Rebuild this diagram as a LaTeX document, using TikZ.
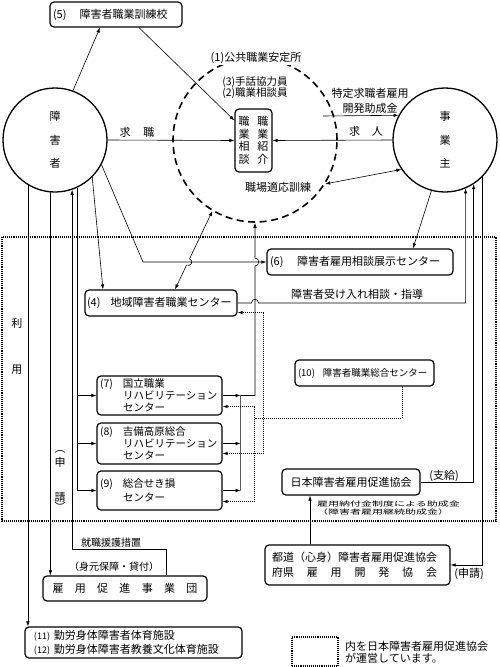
\documentclass[tikz,border=0pt]{standalone}
\usepackage{fontspec}
\usepackage{graphicx}
\setmainfont{Noto Sans CJK JP}
\usetikzlibrary{arrows.meta,calc}

\begin{document}
\begin{tikzpicture}[x=1pt, y=-1pt,
    every node/.style={font=\fontsize{11}{13}\selectfont, inner sep=1pt},
    box node/.style={draw, line width=1.2pt, rounded corners=4pt, inner xsep=3pt, inner ysep=0pt, align=left},
    round node/.style={circle, draw, line width=1.3pt, minimum size=104pt, align=center, font=\fontsize{11}{23.5}\selectfont},
    link/.style={line width=0.6pt},
    arrow link/.style={link, -{Latex[length=5pt,width=3.5pt]}},
    both link/.style={link, {Latex[length=5pt,width=3.5pt]}-{Latex[length=5pt,width=3.5pt]}},
    dot link/.style={line width=0.8pt, dash pattern=on 1pt off 1pt},
    dot arrow/.style={dot link, -{Latex[length=5pt,width=3.5pt]}},
    region line/.style={line width=1.2pt, dash pattern=on 1.1pt off 1pt}]

    \useasboundingbox[fill=white] (0,0) rectangle (500,667);

    % zone geree par l'association
    \draw[region line] (2,237) rectangle (496,521);

    % les deux acteurs
    \node[round node] (sha) at (55,140) {障\\害\\者};
    \node[round node] (jig) at (445,140) {事\\業\\主};

    % bureau public
    \node[circle, draw, line width=1.6pt, dash pattern=on 7pt off 4.5pt, minimum size=164pt] (antei) at (255,140) {};
    \node[fill=white] (antei label) at (256,58) {(1)公共職業安定所};
    \node[align=center, font=\fontsize{10.5}{11.6}\selectfont] (staff) at (255,87.5) {(3)手話協力員\\(2)職業相談員};
    \node[box node, align=center, minimum width=37pt, minimum height=63pt, font=\fontsize{11}{12.5}\selectfont] (sho) at (253.5,140.5) {職\hspace{8pt}職\\業\hspace{8pt}業\\相\hspace{8pt}紹\\談\hspace{8pt}介};
    \node (tekio) at (278,187) {職場適応訓練};

    % centres
    \node[box node, text width=126pt, minimum height=25pt] (n5) at (116,14.5) {(5)\hspace{13pt}障害者職業訓練校};
    \node[box node, text width=148pt, inner xsep=2pt, minimum height=26pt] (n4) at (161,303) {(4)\hspace{10pt}地域障害者職業センター};
    \node[box node, text width=180pt, minimum height=26pt] (n6) at (360,262) {(6)\hspace{13.5pt}障害者雇用相談展示センター};
    \node[box node, text width=133pt, minimum height=26pt, font=\fontsize{9.5}{11}\selectfont] (n10) at (364.5,373) {(10)\hspace{8pt}障害者職業総合センター};
    \node[box node, text width=119pt, minimum height=39pt, font=\fontsize{10.5}{12}\selectfont] (n7) at (159.5,395.5) {\makebox[23pt][l]{(7)}国立職業\\\hspace*{23pt}リハビリテーション\\\hspace*{23pt}センター};
    \node[box node, text width=119pt, minimum height=41pt, font=\fontsize{10.5}{12}\selectfont] (n8) at (159.5,443.5) {\makebox[23pt][l]{(8)}吉備高原総合\\\hspace*{23pt}リハビリテーション\\\hspace*{23pt}センター};
    \node[box node, text width=119pt, minimum height=39pt, font=\fontsize{10.5}{14}\selectfont] (n9) at (159.5,490.5) {\makebox[23pt][l]{(9)}総合せき損\\\hspace*{23pt}センター};
    \node[box node, align=center, minimum width=138pt, minimum height=26pt] (nihon) at (351,482) {日本障害者雇用促進協会};
    \node[box node, text width=171pt, inner xsep=7pt, minimum height=40pt, font=\fontsize{11}{15}\selectfont] (todo) at (357.5,565) {都道（心身）障害者雇用促進協会\\府県\makebox[13em][s]{\hfill 雇\hfill 用\hfill 開\hfill 発\hfill 協\hfill 会}};
    \node[box node, align=center, minimum width=164pt, minimum height=25pt] (koyo) at (125,588.5) {\makebox[145pt][s]{雇\hfill 用\hfill 促\hfill 進\hfill 事\hfill 業\hfill 団}};
    \node[box node, text width=199pt, inner xsep=9pt, minimum height=31pt, font=\fontsize{11}{14}\selectfont] (sisetsu) at (133.5,642.5) {\makebox[20pt][l]{\fontsize{9}{9}\selectfont(11)}勤労身体障害者体育施設\\\makebox[20pt][l]{\fontsize{9}{9}\selectfont(12)}勤労身体障害者教養文化体育施設};

    % legende
    \node[draw, region line, minimum width=46pt, minimum height=29pt] (legend box) at (315,651.5) {};
    \node[anchor=west, align=left, font=\fontsize{11}{12}\selectfont] (legend) at (344,652.5) {内を日本障害者雇用促進協会\\が運営しています。};

    % etiquettes
    \node (kyushoku) at (137,132) {求\hspace{13pt}職};
    \node (kyujin) at (366,131) {求\hspace{12pt}人};
    \node[align=center, font=\fontsize{11}{15}\selectfont] (josei) at (370,100.5) {特定求職者雇用\\開発助成金};
    \node (ukeire) at (357,294) {障害者受け入れ相談・指導};
    \node (shikyu) at (444,476) {(支給)};
    \node (shinsei) at (469,574) {(申請)};
    \node[anchor=west] (nofu1) at (316,504) {\scalebox{1}[0.6]{雇用納付金制度による助成金}};
    \node[anchor=west] (nofu2) at (316,512) {\scalebox{1}[0.6]{（障害者雇用継続助成金）}};
    \node[font=\fontsize{10}{12}\selectfont] (engo) at (111,543) {就職援護措置};
    \node[font=\fontsize{10}{12}\selectfont] (mimoto) at (114,567) {（身元保障・貸付）};
    \node (riyo1) at (17,323) {利};
    \node (riyo2) at (17,370) {用};
    \node (sh1) at (60,452) {︵};
    \node (sh2) at (60,462) {申};
    \node (sh3) at (60,497) {請};
    \node (sh4) at (60,507) {︶};

    % liaisons du haut
    \draw[arrow link] (sha.70) -- ($(n5.south)+(-16,0)$);
    \draw[arrow link] ($(n5.south)+(23,0)$) -- ($(sho.west)+(0,-20)$);
    \draw[arrow link] (sha.east) -- (sho.west);
    \draw[arrow link] (jig.west) -- (sho.east);
    \coordinate (josei start) at (323,116);
    \draw[arrow link] (josei start) -- (jig.152.4);
    \draw[both link] (antei.-32) -- (jig.-146);
    \draw[arrow link] (jig.-105) -- ($(n6.north)+(53,0)$);

    % liaisons vers les centres
    \draw[arrow link] (sha.-45) -- ($(n4.north)+(-58,0)$);
    \draw[arrow link] (sha.-28) -- (n6.west -| 143,0) -- (n6.west);
    \coordinate (d1) at ($(n4.north)+(14,0)$);
    \coordinate (d2) at (antei.-121);
    \draw[both link] (d1) -- ($(d1)!0.31!(d2)$) .. controls +(4.5,2.1) and +(4.5,2.1) .. ($(d1)!0.39!(d2)$) -- (d2);
    \draw[arrow link] (n4.east) -- ($(n4.east -| antei.south)+(-3.5,0)$) .. controls +(0,-5) and +(0,-5) .. ($(n4.east -| antei.south)+(3.5,0)$) -| (jig.-67);

    % centres de readaptation
    \coordinate (mg) at ($(n7.east)+(18,0)$);
    \draw[arrow link] (n7.east) -- (mg);
    \draw[arrow link] (n8.east) -- (n8.east -| mg);
    \draw[arrow link] (n9.east) -- (n9.east -| mg);
    \draw[arrow link] (n9.east -| mg) -- (mg) -- (mg -| antei.south) -- ($(n6.west -| antei.south)+(0,4)$) .. controls +(5,0) and +(5,0) .. ($(n6.west -| antei.south)+(0,-4)$) -- (antei.south);
    \draw[arrow link] (sha.-65) |- (n9.west);
    \draw[arrow link] (sha.-65 |- n7.west) -- (n7.west);
    \draw[arrow link] (sha.-65 |- n8.west) -- (n8.west);

    % liaisons en pointille (10)
    \coordinate (dv1) at ($(n4.south east)+(26,-4)$);
    \draw[dot arrow] (dv1) -- ($(n4.south east)+(0,-4)$);
    \draw[dot link] (dv1) -- ($(n8.east)+(41,10)$);
    \draw[dot arrow] ($(n8.east)+(41,10)$) -- ($(n8.east)+(0,10)$);
    \draw[dot arrow] ($(n7.east)+(32,11)$) -- ($(n7.east)+(0,11)$);
    \draw[dot arrow] ($(n9.east)+(32,11)$) -- ($(n9.east)+(0,11)$);
    \draw[dot link] ($(n7.east)+(32,11)$) -- ($(n9.east)+(32,11)$);
    \draw[dot link] ($(n10.south)+(37.5,0)$) |- ($(n7.east)+(32,22.5)$);

    % cote droit
    \draw[arrow link] (nihon.east) -| (jig.-57);
    \draw[arrow link] (jig.-45) |- (todo.east);
    \draw[arrow link] (todo.north -| 310,0) -- (nihon.south -| 310,0);

    % cote gauche
    \draw[arrow link] (sha.-121) -- (sha.-121 |- sisetsu.north);
    \draw[arrow link] (sha.-95.5) -- (sha.-95.5 |- koyo.north);
    \draw[arrow link] ($(koyo.north)+(41,0)$) -- ++(0,-26) -| (sha.-71);
\end{tikzpicture}
\end{document}
